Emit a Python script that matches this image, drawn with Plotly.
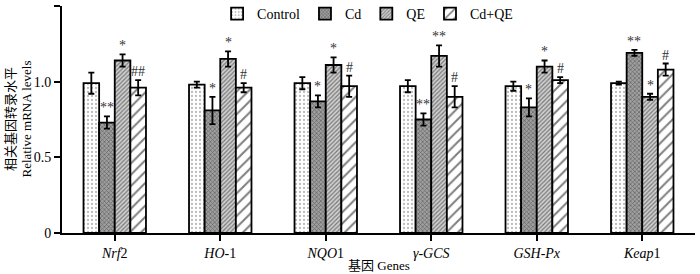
import plotly.graph_objects as go

genes = ["<i>Nrf</i>2", "<i>HO</i>-1", "<i>NQO</i>1", "<i>γ-GCS</i>", "<i>GSH-Px</i>", "<i>Keap</i>1"]
groups = ["Control", "Cd", "QE", "Cd+QE"]

control = [0.99, 0.98, 0.99, 0.97, 0.97, 0.99]
cd = [0.73, 0.81, 0.87, 0.75, 0.83, 1.19]
qe = [1.14, 1.15, 1.11, 1.17, 1.10, 0.90]
cdqe = [0.96, 0.96, 0.97, 0.90, 1.01, 1.08]

control_err = [0.07, 0.02, 0.04, 0.04, 0.03, 0.01]
cd_err = [0.04, 0.09, 0.04, 0.04, 0.06, 0.02]
qe_err = [0.04, 0.05, 0.05, 0.07, 0.04, 0.02]
cdqe_err = [0.05, 0.03, 0.07, 0.07, 0.02, 0.04]

control_sig = ["", "", "", "", "", ""]
cd_sig = ["**", "*", "*", "**", "*", "**"]
qe_sig = ["*", "*", "*", "**", "*", "*"]
cdqe_sig = ["##", "#", "#", "#", "#", "#"]

series = [control, cd, qe, cdqe]
errors = [control_err, cd_err, qe_err, cdqe_err]
sigs = [control_sig, cd_sig, qe_sig, cdqe_sig]

patterns = [
    dict(shape=".", fgcolor="#777777", bgcolor="#ffffff", size=4, solidity=0.25),
    dict(shape="x", fgcolor="#222222", bgcolor="#a0a0a0", size=3, solidity=0.4),
    dict(shape="/", fgcolor="#222222", bgcolor="#d0d0d0", size=3, solidity=0.4),
    dict(shape="/", fgcolor="#000000", bgcolor="#ffffff", size=8, solidity=0.25),
]

serif = "Liberation Serif, Times New Roman, serif"
cjk = "Noto Sans CJK SC"
bw = 0.148
fig = go.Figure()
annotations = []
for k, (name, vals, errs, sg, pat) in enumerate(zip(groups, series, errors, sigs, patterns)):
    xs = [i + (k - 1.5) * bw for i in range(len(genes))]
    fig.add_trace(go.Bar(
        x=xs, y=vals, width=bw, name=name,
        marker=dict(color="white", pattern=pat, line=dict(color="black", width=1.8)),
        error_y=dict(type="data", array=errs, visible=True, color="black", thickness=1.8, width=3),
    ))
    for x, v, e, s in zip(xs, vals, errs, sg):
        if s:
            annotations.append(dict(x=x, y=v + e, text=s, showarrow=False, xref="x", yref="y",
                                    yanchor="bottom", yshift=-1,
                                    font=dict(family=serif, size=14, color="#333333")))

annotations.append(dict(x=0.5, y=0, xref="paper", yref="paper", yanchor="top", yshift=-20,
                        showarrow=False,
                        text=f"<span style='font-family:{cjk}'>基因</span> Genes",
                        font=dict(family=serif, size=13)))
annotations.append(dict(x=0, y=0.5, xref="paper", yref="paper", xanchor="center",
                        xshift=-45, textangle=-90, showarrow=False,
                        text=f"<span style='font-family:{cjk}'>相关基因转录水平</span><br>Relative mRNA levels",
                        font=dict(family=serif, size=13)))

fig.update_layout(
    width=700, height=274,
    margin=dict(l=62, r=5, t=6, b=41, autoexpand=False),
    paper_bgcolor="white", plot_bgcolor="white",
    barmode="overlay",
    font=dict(family=serif, size=14, color="black"),
    showlegend=True,
    legend=dict(orientation="h", x=0.245, xanchor="left", y=1.035, yanchor="top",
                font=dict(family=serif, size=14), bgcolor="rgba(0,0,0,0)",
                itemwidth=30, tracegroupgap=0),
    annotations=annotations,
)
fig.update_xaxes(
    range=[-0.5, 5.5], tickvals=list(range(len(genes))), ticktext=genes,
    showline=True, linecolor="black", linewidth=2, ticks="outside", ticklen=6, tickwidth=1.5,
    tickcolor="black", showgrid=False, zeroline=False, automargin=False,
    tickfont=dict(family=serif, size=14),
)
fig.update_yaxes(
    range=[0, 1.5], tickvals=[0, 0.5, 1.0, 1.5], ticktext=["0", "0.5", "1.0", "1.5"],
    showline=True, linecolor="black", linewidth=2, ticks="outside", ticklen=6, tickwidth=1.5,
    tickcolor="black", showgrid=False, zeroline=False, automargin=False,
    tickfont=dict(family=serif, size=14),
)
fig.write_html("out.html", config={"displayModeBar": False},
               post_script="document.body.style.margin='0';document.body.style.padding='0';")
